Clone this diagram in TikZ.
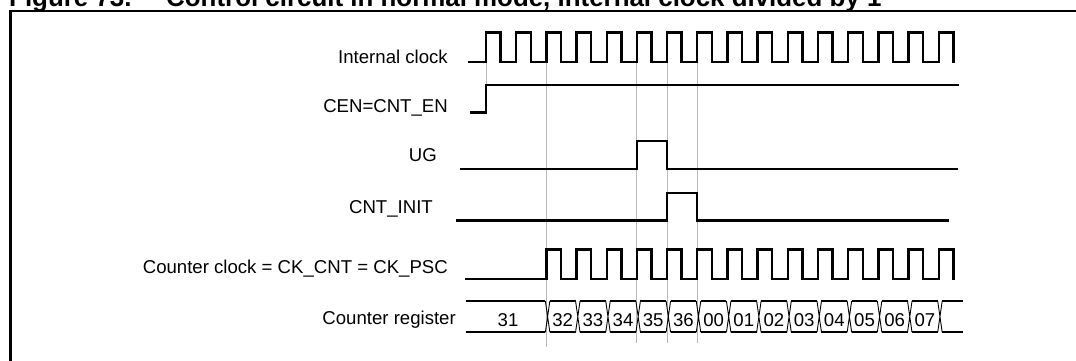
\documentclass[tikz,border=0pt]{standalone}
\usepackage{fontspec}
\setmainfont{Liberation Sans}
\begin{document}
\begin{tikzpicture}[x=1pt,y=-1pt,
  sig/.style={line width=2.4pt,line join=miter,line cap=rect},
  bus/.style={line width=2pt},
  cross/.style={line width=0.9pt},
  grid/.style={line width=0.9pt,draw={rgb,255:red,185;green,185;blue,185}},
  lbl/.style={anchor=base east,inner sep=0pt,font=\fontsize{18.6}{22}\selectfont},
  val/.style={anchor=base,inner sep=0pt,font=\fontsize{18.6}{22}\selectfont},
  ttl/.style={anchor=base west,inner sep=0pt,font=\bfseries\fontsize{25.9}{30}\selectfont}]
\useasboundingbox (0,0) rectangle (1076,361);
\def\T{486}\def\P{30.18}\def\H{14.6}\def\a{1}\def\b{3.5}
% title (cut off at the top)
\node[ttl] (ttlA) at (9,6.5) {Figure 73.};
\node[ttl] (ttlB) at (166,6.5) {Control circuit in normal mode, internal clock divided by 1};
% frame
\draw[line width=2.8pt] (10.5,400) -- (10.5,11) -- (1100,11);
% grey guide lines
\draw[grid] (\T,63) -- (\T,85);
\foreach \k/\yb in {2/347,5/343,6/343,7/343}{
  \draw[grid] ({\T+\k*\P},63) -- ({\T+\k*\P},\yb);
}
% labels
\node[lbl] (lclk) at (448,63.3) {Internal clock};
\node[lbl] (lcen) at (448,112.7) {CEN=CNT\_EN};
\node[lbl] (lug) at (437,161.7) {UG};
\node[lbl] (linit) at (433,213.5) {CNT\_INIT};
\node[lbl] (lck) at (448,273.3) {Counter clock = CK\_CNT = CK\_PSC};
\node[lbl] (lreg) at (456,324) {Counter register};
% internal clock
\draw[sig] (469,62.3) -- (\T,62.3)
  \foreach \k in {0,...,15}{ -- ({\T+\k*\P},62.3) -- ({\T+\k*\P},32.7) -- ({\T+\k*\P+\H},32.7) -- ({\T+\k*\P+\H},62.3) };
% CEN
\draw[sig] (471,112.3) -- (\T,112.3) -- (\T,85) -- (957.7,85);
% UG
\draw[sig] (461,169) -- ({\T+5*\P},169) -- ({\T+5*\P},141) -- ({\T+6*\P},141) -- ({\T+6*\P},169) -- (957,169);
% CNT_INIT
\draw[sig] (457,220.5) -- ({\T+6*\P},220.5) -- ({\T+6*\P},192.7) -- ({\T+7*\P},192.7) -- ({\T+7*\P},220.5) -- (948,220.5);
% counter clock
\draw[sig] (465.7,279) -- ({\T+2*\P},279)
  \foreach \k in {2,...,15}{ -- ({\T+\k*\P},279) -- ({\T+\k*\P},249.3) -- ({\T+\k*\P+\H},249.3) -- ({\T+\k*\P+\H},279) };
% counter register
\draw[bus] (465.7,301) -- ({\T+2*\P-\a},301) (465.7,332.3) -- ({\T+2*\P-\a},332.3);
\node[val] (v31) at (508,326) {31};
\foreach \k/\v in {2/32,3/33,4/34,5/35,6/36,7/00,8/01,9/02,10/03,11/04,12/05,13/06,14/07}{
  \pgfmathsetmacro\e{\T+\k*\P}
  \pgfmathsetmacro\n{\T+(\k+1)*\P-\a}
  \draw[cross] ({\e-\a},301) -- ({\e+\b},332.3) ({\e-\a},332.3) -- ({\e+\b},301);
  \draw[bus] ({\e+\b},301) -- (\n,301) ({\e+\b},332.3) -- (\n,332.3);
  \node[val] (v\k) at ({(\e+\b+\n)/2},326) {\v};
}
\pgfmathsetmacro\e{\T+15*\P}
\draw[cross] ({\e-\a},301) -- ({\e+\b},332.3) ({\e-\a},332.3) -- ({\e+\b},301);
\draw[bus] ({\e+\b},301) -- (963,301) ({\e+\b},332.3) -- (963,332.3);
\end{tikzpicture}
\end{document}
